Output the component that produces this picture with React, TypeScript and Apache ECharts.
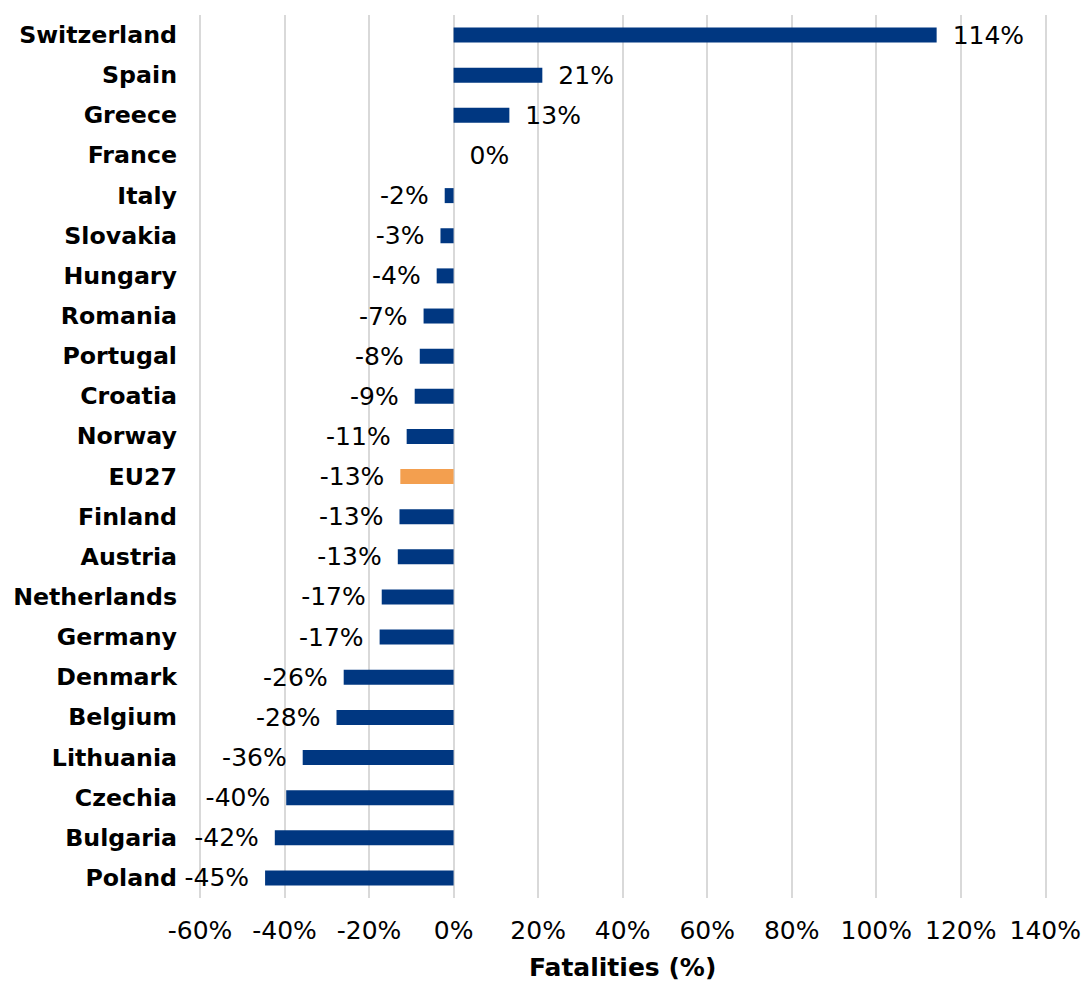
import React, { useEffect, useRef } from "react";
import * as echarts from "echarts";

const countries = [
  "Switzerland", "Spain", "Greece", "France", "Italy", "Slovakia", "Hungary",
  "Romania", "Portugal", "Croatia", "Norway", "EU27", "Finland", "Austria",
  "Netherlands", "Germany", "Denmark", "Belgium", "Lithuania", "Czechia",
  "Bulgaria", "Poland",
];
const values = [
  114.3, 21.0, 13.2, 0, -2.1, -3.1, -4.0, -7.1, -8.0, -9.2, -11.1, -12.6,
  -12.8, -13.2, -17.0, -17.5, -26.0, -27.7, -35.7, -39.6, -42.3, -44.6,
];
const highlight = "EU27";
const xTicks = { min: -60, max: 140, interval: 20 };

export default function App() {
  const ref = useRef<HTMLDivElement>(null);
  useEffect(() => {
    if (!ref.current) return;
    document.body.style.margin = "0";
    const chart = echarts.init(ref.current, null, { renderer: "svg" });
    const font = "DejaVu Sans, Verdana, sans-serif";
    chart.setOption({
      animation: false,
      textStyle: { fontFamily: font },
      grid: { left: 200, right: 38, top: 15, bottom: 81, containLabel: false },
      xAxis: {
        type: "value",
        min: xTicks.min,
        max: xTicks.max,
        interval: xTicks.interval,
        name: "Fatalities (%)",
        nameLocation: "middle",
        nameGap: 57,
        nameTextStyle: { fontFamily: font, fontSize: 25, fontWeight: "bold", color: "#000" },
        axisLine: { show: false },
        axisTick: { show: false },
        axisLabel: {
          formatter: (v: number) => `${v}%`,
          fontFamily: font,
          fontSize: 25,
          color: "#000",
          margin: 20,
        },
        splitLine: { show: true, lineStyle: { color: "#d9d9d9", width: 2 } },
      },
      yAxis: {
        type: "category",
        data: countries,
        inverse: true,
        axisLine: { show: false },
        axisTick: { show: false },
        axisLabel: {
          fontFamily: font,
          fontSize: 23.7,
          fontWeight: "bold",
          color: "#000",
          margin: 23,
        },
      },
      series: [
        {
          type: "bar",
          barWidth: 15,
          data: values.map((v, i) => ({
            value: v,
            itemStyle: { color: countries[i] === highlight ? "#F39F4F" : "#003781" },
            label: { position: v < 0 ? "left" : "right" },
          })),
          label: {
            show: true,
            distance: 16,
            fontFamily: font,
            fontSize: 25,
            color: "#000",
            formatter: (p: any) => `${Math.round(p.value)}%`,
          },
        },
      ],
    });
    return () => chart.dispose();
  }, []);
  return <div ref={ref} style={{ width: 1084, height: 985 }} />;
}
